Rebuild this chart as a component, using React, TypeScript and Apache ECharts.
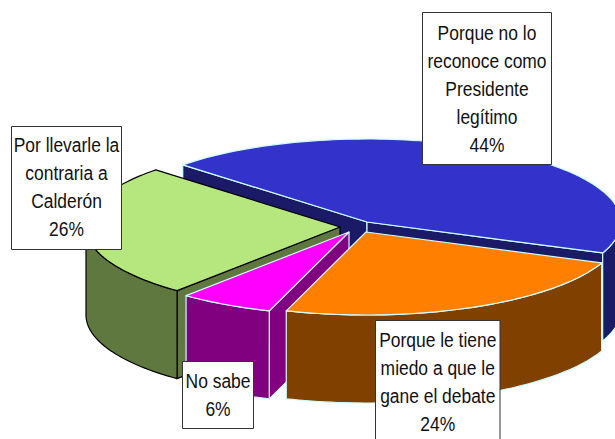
import React, { useEffect, useRef } from "react";
import * as echarts from "echarts";

const sliceNames = [
  "Porque no lo\nreconoce como\nPresidente\nlegítimo",
  "Porque le tiene\nmiedo a que le\ngane el debate",
  "No sabe",
  "Por llevarle la\ncontraria a\nCalderón",
];
const sliceValues = [44, 24, 6, 26];

// Presentation, separate from the data
const START_ANGLE = 223.5;
const RX = 254;
const RY = 83;
const DEPTH = 88;
const centers = [[367, 222], [366, 232], [349, 232], [340, 227]];
const topColors = ["#3333CC", "#FF8000", "#FF00FF", "#B5E77E"];
const sideColors = ["#1A1A66", "#804000", "#800080", "#5F783F"];
const edgeColors = ["#CCFFFF", "#CCFFFF", "#CCFFFF", "#000000"];
const drawOrder = [10, 30, 20, 15];
const boxes = [
  [422, 12, 129, 152],
  [375, 320, 124.5, 130],
  [182, 361, 71, 67],
  [11, 126, 110, 123],
];
const textCenterY = [88.5, 381.5, 394.5, 187];
const FONT_SIZE = 21;
const LINE_HEIGHT = 28;
const SCALE_X = 0.83;

const sum = sliceValues.reduce((a, b) => a + b, 0);

function renderSlice(params: any, api: any) {
  const i = params.dataIndex;
  let before = 0;
  for (let k = 0; k < i; k++) before += sliceValues[k];
  const a0 = START_ANGLE + (before / sum) * 360;
  const a1 = a0 + (api.value(0) / sum) * 360;
  const [cx, cy] = centers[i];
  const rad = (deg: number) => (deg * Math.PI) / 180;
  const pt = (deg: number, dy = 0) => [
    cx + RX * Math.cos(rad(deg)),
    cy + RY * Math.sin(rad(deg)) + dy,
  ];
  const arc = (from: number, to: number, dy = 0) => {
    const out: number[][] = [];
    const n = Math.max(2, Math.ceil(Math.abs(to - from) / 1.5));
    for (let s = 0; s <= n; s++) out.push(pt(from + ((to - from) * s) / n, dy));
    return out;
  };
  const z = drawOrder[i];
  const sideStyle = {
    fill: sideColors[i],
    stroke: edgeColors[i],
    lineWidth: 1.2,
    lineJoin: "round",
  };
  const children: any[] = [];
  // radial walls that face the viewer
  const walls: number[] = [];
  if (Math.cos(rad(a0)) < 0) walls.push(a0);
  if (Math.cos(rad(a1)) > 0) walls.push(a1);
  walls.forEach((a) => {
    const p = pt(a);
    children.push({
      type: "polygon",
      z2: z,
      shape: { points: [[cx, cy], p, [p[0], p[1] + DEPTH], [cx, cy + DEPTH]] },
      style: sideStyle,
    });
  });
  // outer wall: only the visible (front) part of the rim
  const ranges: number[][] = [];
  for (let base = -360; base <= 720; base += 360) {
    const lo = Math.max(a0, base);
    const hi = Math.min(a1, base + 180);
    if (hi > lo) ranges.push([lo, hi]);
  }
  ranges.forEach(([lo, hi]) => {
    children.push({
      type: "polygon",
      z2: z + 1,
      shape: { points: [...arc(lo, hi), ...arc(hi, lo, DEPTH)] },
      style: sideStyle,
    });
  });
  // top face
  children.push({
    type: "polygon",
    z2: z + 2,
    shape: { points: [[cx, cy], ...arc(a0, a1)] },
    style: {
      fill: topColors[i],
      stroke: edgeColors[i],
      lineWidth: 1.2,
      lineJoin: "round",
    },
  });
  // label box and text
  const [bx, by, bw, bh] = boxes[i];
  children.push({
    type: "rect",
    z2: 100,
    shape: { x: bx + 0.5, y: by + 0.5, width: bw, height: bh },
    style: { fill: "#FFFFFF", stroke: "#333333", lineWidth: 1 },
  });
  children.push({
    type: "text",
    z2: 101,
    x: bx + bw / 2 + 0.5,
    y: textCenterY[i],
    scaleX: SCALE_X,
    style: {
      text: `${sliceNames[i]}\n${api.value(0)}%`,
      fill: "#111111",
      font: `${FONT_SIZE}px "Liberation Sans", Arial, sans-serif`,
      lineHeight: LINE_HEIGHT,
      align: "center",
      verticalAlign: "middle",
    },
  });
  return { type: "group", children };
}

export default function App() {
  const ref = useRef<HTMLDivElement>(null);
  useEffect(() => {
    const chart = echarts.init(ref.current!, undefined, { renderer: "svg" });
    chart.setOption({
      animation: false,
      backgroundColor: "#FFFFFF",
      series: [
        {
          type: "custom",
          coordinateSystem: "none",
          silent: true,
          clip: false,
          data: sliceValues.map((v, i) => ({ value: v, name: sliceNames[i] })),
          renderItem: renderSlice,
        },
      ],
    });
    return () => chart.dispose();
  }, []);
  return (
    <div
      ref={ref}
      style={{ position: "absolute", left: 0, top: 0, width: 615, height: 439 }}
    />
  );
}
